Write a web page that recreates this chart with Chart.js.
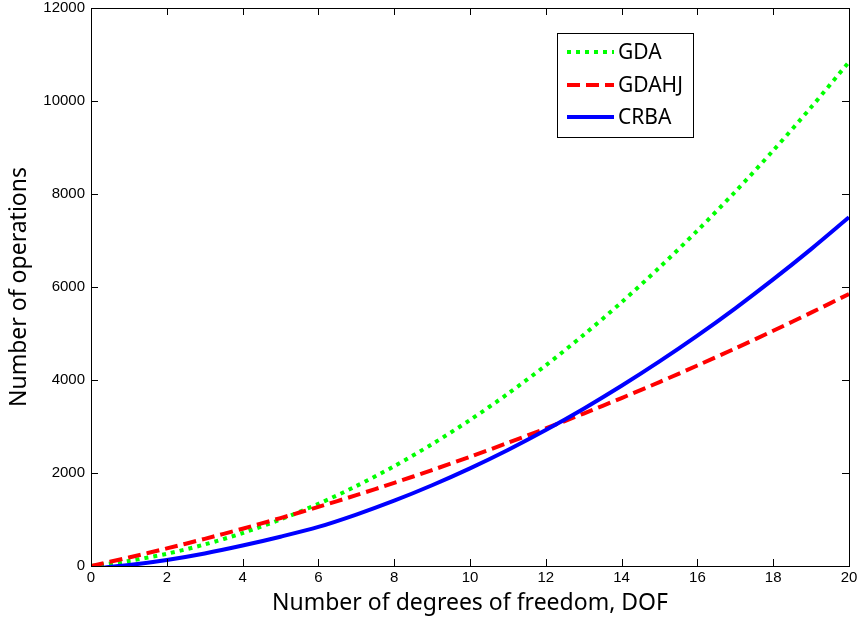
<!DOCTYPE html>
<html>
<head>
<meta charset="utf-8">
<title>Operation counts vs DOF</title>
<script src="https://cdn.jsdelivr.net/npm/chart.js@4/dist/chart.umd.min.js"></script>
<style>
  html, body { margin: 0; padding: 0; background: #fff; }
  #chart { display: block; }
</style>
</head>
<body>
<canvas id="chart" width="860" height="619"></canvas>
<script>
// number of degrees of freedom
const dof = [0, 1, 2, 3, 4, 5, 6, 7, 8, 9, 10, 11, 12, 13, 14, 15, 16, 17, 18, 19, 20];

// operation counts per algorithm
const gda = [0, 109, 263, 463, 709, 1000, 1337, 1719, 2147, 2621, 3140, 3705, 4315, 4971, 5673, 6420, 7213, 8051, 8935, 9865, 10840];
const gdahj = [0, 183, 378, 584, 802, 1031, 1272, 1524, 1788, 2063, 2350, 2648, 2958, 3279, 3612, 3956, 4312, 4679, 5058, 5448, 5850];
const crba = [-60, 20, 130, 270, 440, 630, 840, 1106, 1405, 1737, 2100, 2495, 2923, 3383, 3875, 4399, 4954, 5542, 6163, 6815, 7500];

const xTicks = [0, 2, 4, 6, 8, 10, 12, 14, 16, 18, 20];
const yTicks = [0, 2000, 4000, 6000, 8000, 10000, 12000];

const toPoints = (ys) => ys.map((y, i) => ({ x: dof[i], y: y }));

const tickFont = { family: '"Liberation Sans", Arial, sans-serif', size: 15 };
const titleFont = { family: '"Noto Sans", sans-serif', size: 23 };

// MATLAB-like frame: box around the plot with inward ticks on all sides
const boxPlugin = {
  id: 'box',
  afterDatasetsDraw(chart) {
    const { ctx, chartArea: a, scales } = chart;
    const len = 7;
    ctx.save();
    ctx.strokeStyle = '#000';
    ctx.lineWidth = 1;
    ctx.beginPath();
    xTicks.forEach(v => {
      const px = Math.round(scales.x.getPixelForValue(v)) + 0.5;
      ctx.moveTo(px, a.bottom); ctx.lineTo(px, a.bottom - len);
      ctx.moveTo(px, a.top); ctx.lineTo(px, a.top + len);
    });
    yTicks.forEach(v => {
      const py = Math.round(scales.y.getPixelForValue(v)) + 0.5;
      ctx.moveTo(a.left, py); ctx.lineTo(a.left + len, py);
      ctx.moveTo(a.right, py); ctx.lineTo(a.right - len, py);
    });
    ctx.stroke();
    ctx.strokeRect(Math.round(a.left) + 0.5, Math.round(a.top) + 0.5,
      Math.round(a.right - a.left), Math.round(a.bottom - a.top));
    ctx.restore();
  }
};

// legend box in the upper part of the plot
const legendPlugin = {
  id: 'boxLegend',
  afterDraw(chart) {
    const { ctx } = chart;
    const x0 = 557, y0 = 33, w = 136, h = 104;
    ctx.save();
    ctx.fillStyle = '#fff';
    ctx.fillRect(x0, y0, w, h);
    ctx.strokeStyle = '#000';
    ctx.lineWidth = 1;
    ctx.strokeRect(x0 + 0.5, y0 + 0.5, w, h);
    const rows = [52, 85, 117];
    chart.data.datasets.forEach((ds, i) => {
      const y = rows[i];
      ctx.strokeStyle = ds.borderColor;
      ctx.lineWidth = ds.borderWidth;
      ctx.lineCap = 'butt';
      ctx.setLineDash(ds.borderDash || []);
      ctx.beginPath();
      ctx.moveTo(567, y);
      ctx.lineTo(614, y);
      ctx.stroke();
      ctx.setLineDash([]);
      ctx.fillStyle = '#000';
      ctx.font = '21px "Noto Sans", sans-serif';
      ctx.textBaseline = 'middle';
      ctx.fillText(ds.label, 618, y + 1);
    });
    ctx.restore();
  }
};

new Chart(document.getElementById('chart').getContext('2d'), {
  type: 'line',
  data: {
    datasets: [
      {
        label: 'GDA',
        data: toPoints(gda),
        borderColor: '#00ff00',
        borderWidth: 4,
        borderDash: [4, 5],
        order: 3
      },
      {
        label: 'GDAHJ',
        data: toPoints(gdahj),
        borderColor: '#ff0000',
        borderWidth: 4,
        borderDash: [13, 6],
        order: 2
      },
      {
        label: 'CRBA',
        data: toPoints(crba),
        borderColor: '#0000ff',
        borderWidth: 4,
        order: 1
      }
    ]
  },
  options: {
    responsive: false,
    animation: false,
    layout: { padding: { top: 0, right: 0, left: 0, bottom: 0 } },
    elements: {
      point: { radius: 0 },
      line: { tension: 0.3, borderCapStyle: 'butt' }
    },
    plugins: {
      legend: { display: false },
      tooltip: { enabled: false }
    },
    scales: {
      x: {
        type: 'linear',
        min: 0,
        max: 20,
        afterBuildTicks: (scale) => { scale.ticks = xTicks.map(v => ({ value: v })); },
        afterFit: (scale) => {
          scale.height = 53;
          scale.paddingLeft = 0;
          scale.paddingRight = 11;
        },
        ticks: { color: '#000', font: tickFont, padding: 3, maxRotation: 0, callback: (v) => String(v) },
        grid: { display: false, drawTicks: false },
        border: { display: false },
        title: {
          display: true,
          text: 'Number of degrees of freedom, DOF',
          color: '#000',
          font: titleFont,
          padding: { top: 0, bottom: 2 }
        }
      },
      y: {
        min: 0,
        max: 12000,
        afterBuildTicks: (scale) => { scale.ticks = yTicks.map(v => ({ value: v })); },
        afterFit: (scale) => {
          scale.width = 91;
          scale.paddingTop = 8;
          scale.paddingBottom = 0;
        },
        ticks: { color: '#000', font: tickFont, padding: 6, callback: (v) => String(v) },
        grid: { display: false, drawTicks: false },
        border: { display: false },
        title: {
          display: true,
          text: 'Number of operations',
          color: '#000',
          font: titleFont,
          padding: { top: 6, bottom: 0 }
        }
      }
    }
  },
  plugins: [boxPlugin, legendPlugin]
});
</script>
</body>
</html>
